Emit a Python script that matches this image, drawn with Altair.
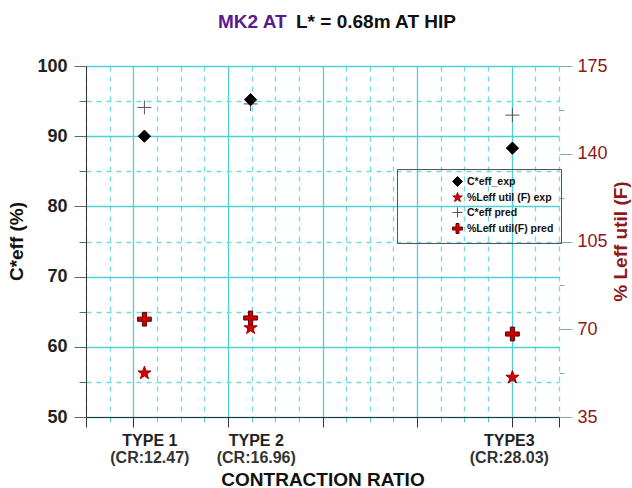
import altair as alt
import pandas as pd

# ---- data ----
categories = ["TYPE 1", "TYPE 2", "TYPE3"]
cr_labels = ["(CR:12.47)", "(CR:16.96)", "(CR:28.03)"]
cr = [12.47, 16.96, 28.03]
label_cr = [12.7, 17.2, 27.9]
ceff_exp = [90.0, 95.2, 88.3]
ceff_pred = [94.1, 94.6, 93.0]
leff_exp = [52.5, 70.5, 50.8]
leff_pred = [74.0, 74.5, 68.1]
series_names = ["C*eff_exp", "%Leff util (F) exp", "C*eff pred", "%Leff util(F) pred"]

rows = []
for name, vals in [
    (series_names[0], ceff_exp),
    (series_names[1], leff_exp),
    (series_names[2], ceff_pred),
    (series_names[3], leff_pred),
]:
    for c, v in zip(cr, vals):
        rows.append({"series": name, "cr": c, "value": v})
df = pd.DataFrame(rows)

lab_df = pd.DataFrame({"lx": label_cr, "cat": categories, "crl": cr_labels})

STAR = ("M0,-1L0.235,-0.324L0.951,-0.309L0.380,0.124L0.588,0.809L0,0.4"
        "L-0.588,0.809L-0.380,0.124L-0.951,-0.309L-0.235,-0.324Z")
THIN_CROSS = "M-1,0L1,0M0,-1L0,1"
PLUS = "M-0.3,-1L0.3,-1L0.3,-0.3L1,-0.3L1,0.3L0.3,0.3L0.3,1L-0.3,1L-0.3,0.3L-1,0.3L-1,-0.3L-0.3,-0.3Z"

CYAN = "#4fd0d4"
CYAN_L = "#72dadd"
DARKRED = "#8b1a1a"

legend = alt.Legend(
    title=None, orient="none", legendX=311, legendY=103,
    labelFontSize=10.5, labelFontWeight="bold", labelColor="#111",
    symbolSize=100, symbolOffset=48, padding=7, strokeColor="#555",
    rowPadding=1, symbolStrokeWidth=1,
)
shape_enc = alt.Shape("series:N", scale=alt.Scale(domain=series_names,
                      range=["diamond", STAR, THIN_CROSS, PLUS]), legend=legend)
fill_enc = alt.Fill("series:N", scale=alt.Scale(domain=series_names,
                    range=["#000000", "#d40000", "transparent", "#cc0000"]), legend=legend)
stroke_enc = alt.Stroke("series:N", scale=alt.Scale(domain=series_names,
                        range=["#000000", "#a00000", "#555555", "#5a0000"]), legend=legend)

MAJOR_X = "datum.value % 4 === 0 || datum.value === 10 || datum.value === 30"
x_scale = alt.Scale(domain=[10, 30], nice=False, zero=False)
x_axis = alt.Axis(
    values=list(range(10, 31)), labels=False,
    tickSize={"condition": {"test": MAJOR_X, "value": 10}, "value": 5},
    tickColor={"condition": {"test": MAJOR_X, "value": "#333333"}, "value": CYAN},
    grid=True,
    gridColor={"condition": {"test": "datum.value % 4 === 0", "value": CYAN}, "value": CYAN_L},
    gridDash={"condition": {"test": "datum.value % 4 === 0", "value": [1, 0]}, "value": [5, 5]},
    gridWidth=1.3,
    domainColor="#333333",
    title="CONTRACTION RATIO", titleFontSize=19, titleFontWeight="bold",
    titleColor="#111", titleBaseline="alphabetic", titleY=68,
)
X = alt.X("cr:Q", scale=x_scale, axis=x_axis, title="CONTRACTION RATIO")

left_axis = alt.Axis(
    orient="left", values=list(range(50, 101, 5)),
    labelExpr="datum.value % 10 === 0 ? datum.label : ''",
    labelFontSize=18, labelFontWeight="bold", labelColor="#222", labelPadding=7,
    tickSize={"condition": {"test": "datum.value % 10 === 0", "value": 12}, "value": 7},
    tickColor="#666666",
    grid=True,
    gridColor={"condition": {"test": "datum.value % 10 === 0", "value": CYAN}, "value": CYAN_L},
    gridDash={"condition": {"test": "datum.value % 10 === 0", "value": [1, 0]}, "value": [5, 5]},
    gridWidth=1.3,
    domainColor="#333333",
    title="C*eff (%)", titleFontSize=19, titleFontWeight="bold", titleColor="#111",
    titleAngle=270, titleX=-70, titleY=175, titleBaseline="middle",
)

right_axis = alt.Axis(
    orient="right", values=[35, 52.5, 70, 87.5, 105, 122.5, 140, 157.5, 175],
    labelExpr="datum.value % 35 === 0 ? format(datum.value, 'd') : ''",
    labelFontSize=18, labelColor=DARKRED, labelPadding=5,
    tickSize={"condition": {"test": "datum.value % 35 === 0", "value": 13}, "value": 5},
    tickColor="#8aa8a8",
    grid=False, domain=False,
    title="% Leff util (F)", titleFontSize=19, titleFontWeight="bold",
    titleColor=DARKRED, titleAngle=270, titleX=61, titleY=175, titleBaseline="middle",
)

YL = alt.Y("value:Q", scale=alt.Scale(domain=[50, 100], nice=False, zero=False), axis=left_axis, title="C*eff (%)")
YR = alt.Y("value:Q", scale=alt.Scale(domain=[35, 175], nice=False, zero=False), axis=right_axis, title="% Leff util (F)")

base = alt.Chart(df)


def pts(name, y, size):
    return base.transform_filter(alt.datum.series == name).mark_point(
        opacity=1, strokeWidth=1, size=size
    ).encode(x=X, y=y, shape=shape_enc, fill=fill_enc, stroke=stroke_enc)


left_layer = alt.layer(
    pts(series_names[2], YL, 196),
    pts(series_names[0], YL, 150),
)
right_layer = alt.layer(
    pts(series_names[1], YR, 190),
    pts(series_names[3], YR, 190),
)

cat_text = alt.Chart(lab_df).mark_text(
    fontSize=16, fontWeight="bold", color="#222", baseline="alphabetic", align="center"
).encode(x=alt.X("lx:Q", scale=x_scale, axis=x_axis, title="CONTRACTION RATIO"),
         y=alt.value(380), text="cat:N")

cr_text = alt.Chart(lab_df).mark_text(
    fontSize=16, fontWeight="bold", color="#333", baseline="alphabetic", align="center"
).encode(x=alt.X("lx:Q", scale=x_scale, axis=x_axis, title="CONTRACTION RATIO"),
         y=alt.value(397), text="crl:N")

title_a = alt.Chart(pd.DataFrame({"t": ["MK2 AT"]})).mark_text(
    fontSize=19, fontWeight="bold", color="#5b1a8f", align="left", baseline="alphabetic"
).encode(x=alt.value(132), y=alt.value(-38), text="t:N")

title_b = alt.Chart(pd.DataFrame({"t": ["L* = 0.68m AT HIP"]})).mark_text(
    fontSize=19, fontWeight="bold", color="#111", align="left", baseline="alphabetic"
).encode(x=alt.value(210), y=alt.value(-38), text="t:N")

chart = alt.layer(
    left_layer, right_layer, cat_text, cr_text, title_a, title_b
).resolve_scale(
    y="independent"
).properties(
    width=473, height=351,
    autosize=alt.AutoSizeParams(type="none"),
    padding={"left": 86, "top": 66, "right": 73, "bottom": 71},
    background="white",
).configure(
    font="Liberation Sans"
).configure_view(stroke=None)

chart.save("out.html", embed_options={"renderer": "svg", "actions": False})
